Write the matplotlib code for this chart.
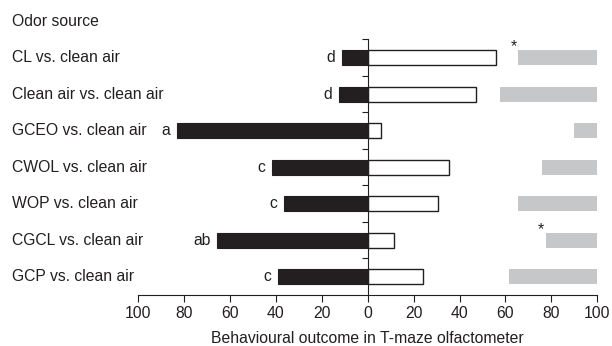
import matplotlib.pyplot as plt
import numpy as np

plt.rcParams['font.family'] = ['Liberation Sans', 'DejaVu Sans']

# rows from top to bottom
odours = ['CL vs. clean air', 'Clean air vs. clean air', 'GCEO vs. clean air',
          'CWOL vs. clean air', 'WOP vs. clean air', 'CGCL vs. clean air',
          'GCP vs. clean air']
black_vals = [11, 12.5, 83, 41.5, 36.5, 65.5, 39]   # left side
white_vals = [56, 47, 6, 35.5, 30.5, 11.5, 24]      # right side
gray_start = [65.5, 57.5, 90, 76, 65.5, 77.5, 61.5]  # grey bar runs from here to 100
letters = ['d', 'd', 'a', 'c', 'c', 'ab', 'c']
stars = [True, False, False, False, False, True, False]

fs = 11.3
ink = '#231f20'

fig = plt.figure(figsize=(6.12, 3.46), dpi=100)
ax = fig.add_axes([0.2255, 0.1474, 0.7505, 0.844])

n = len(odours)
ypos = np.arange(n)[::-1]
h = 0.42

ax.barh(ypos, [-v for v in black_vals], height=h, color=ink, edgecolor=ink, linewidth=0.8)
ax.barh(ypos, white_vals, height=h, color='white', edgecolor=ink, linewidth=1.0)
ax.barh(ypos, [100 - g for g in gray_start], left=gray_start, height=h,
        color='#c6c7c8', linewidth=0)

for y, b, lt in zip(ypos, black_vals, letters):
    ax.annotate(lt, (-b, y), xytext=(-5, 0), textcoords='offset points',
                ha='right', va='center', fontsize=fs, color=ink)

for y, g, s in zip(ypos, gray_start, stars):
    if s:
        ax.annotate('*', (g, y + h / 2), xytext=(-1, -3), textcoords='offset points',
                    ha='right', va='bottom', fontsize=fs, color=ink)

# row labels + header
xl = (12 - 138) / 459.3
for y, lab in zip(ypos, odours):
    ax.text(xl, y, lab, transform=ax.get_yaxis_transform(), ha='left', va='center',
            fontsize=fs, color=ink)
ax.text(xl, n, 'Odor source', transform=ax.get_yaxis_transform(), ha='left',
        va='center', fontsize=fs, color=ink)

ax.set_xlim(-100, 100)
ax.set_ylim(-0.5, n + 0.5)

for side in ['top', 'right']:
    ax.spines[side].set_visible(False)
ax.spines['left'].set_position(('data', 0))
ax.spines['left'].set_bounds(-0.5, n - 0.5)
ax.spines['bottom'].set_bounds(-100, 100)
ax.spines['left'].set_color(ink)
ax.spines['bottom'].set_color(ink)

ax.set_yticks(np.arange(n) + 0.5)
ax.set_yticklabels([])
ax.tick_params(axis='y', direction='out', length=4, color=ink)

xt = np.arange(-100, 101, 20)
ax.set_xticks(xt)
ax.set_xticklabels([str(abs(v)) for v in xt], fontsize=fs, color=ink)
ax.tick_params(axis='x', direction='out', length=5, pad=3, color=ink)
ax.set_xlabel('Behavioural outcome in T-maze olfactometer', fontsize=fs,
              color=ink, labelpad=7)

fig.savefig('out.png', dpi=100)
